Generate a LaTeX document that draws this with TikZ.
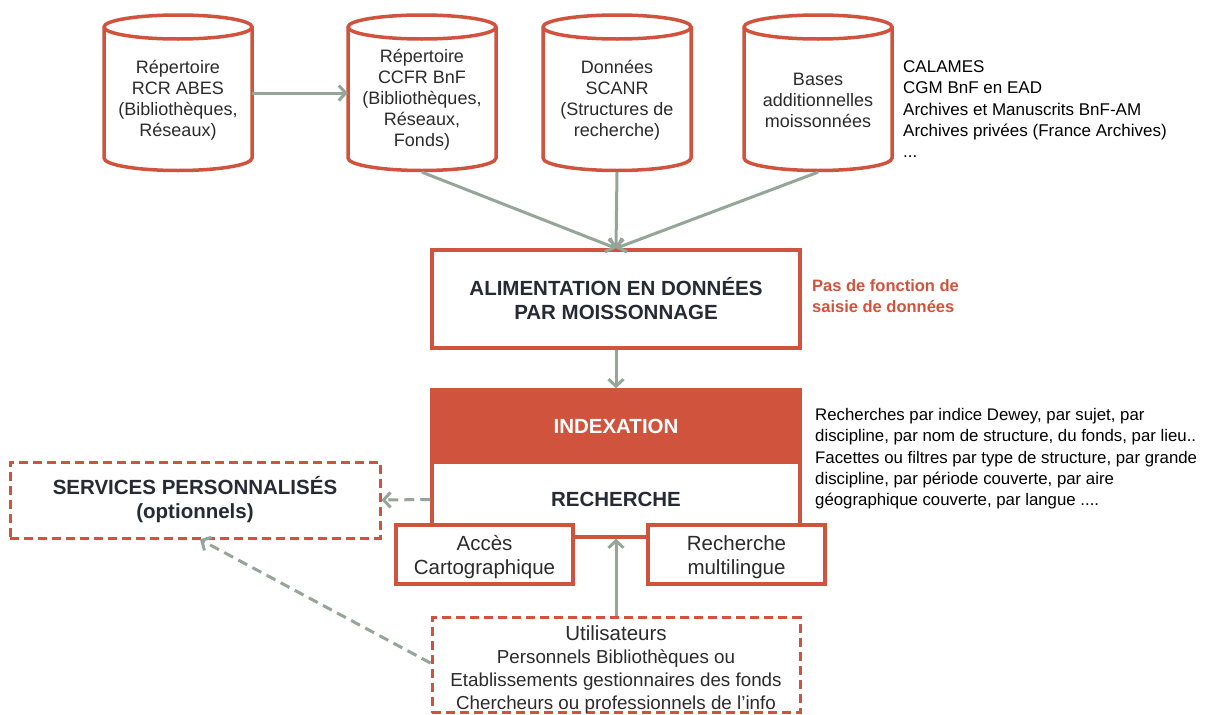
\documentclass[tikz,border=0pt]{standalone}
\usepackage{fontspec}
\setmainfont{Liberation Sans}
\usetikzlibrary{arrows.meta}
\definecolor{rd}{HTML}{D0533D}
\definecolor{gr}{HTML}{95A598}
\definecolor{tx}{HTML}{2B2B2B}
\definecolor{ttl}{HTML}{262A35}
\begin{document}
\begin{tikzpicture}[x=1pt,y=-1pt,
  redline/.style={draw=rd,line width=3.5pt},
  cylnode/.style={minimum width=148pt,minimum height=144pt,inner sep=0pt,align=center,text=tx,
     font=\fontsize{18}{21}\selectfont},
  boxnode/.style={redline,fill=white,inner sep=0pt,align=center},
  dashbox/.style={draw=rd,line width=3pt,dash pattern=on 9pt off 5pt,fill=white,inner sep=0pt,align=center},
  title/.style={text=ttl,font=\fontsize{20.5}{24}\selectfont\bfseries},
  arr/.style={draw=gr,line width=3pt,-{Straight Barb[length=7pt,width=15pt,line width=3pt]}},
  darr/.style={arr,dash pattern=on 10pt off 6pt},
  note/.style={anchor=north west,inner sep=0pt,align=left,text=black,font=\fontsize{17}{21.3}\selectfont}
]
\useasboundingbox (0,0) rectangle (1216,715);
\fill[white] (0,0) rectangle (1216,715);

% cylinders
\foreach \cx in {178,422,617,818}{
  \filldraw[fill=white,redline] (\cx-74,27) -- (\cx-74,158)
     arc[start angle=180,end angle=0,x radius=74,y radius=12.5] -- (\cx+74,27)
     arc[start angle=0,end angle=-180,x radius=74,y radius=12] -- cycle;
  \draw[redline] (\cx-74,27) arc[start angle=180,end angle=0,x radius=74,y radius=12];
}
\node[cylnode] (rcr) at (178,100) {Répertoire\\RCR ABES\\(Bibliothèques,\\Réseaux)};
\node[cylnode] (ccfr) at (422,100) {Répertoire\\CCFR BnF\\(Bibliothèques,\\Réseaux,\\Fonds)};
\node[cylnode] (scanr) at (617,100) {Données\\SCANR\\(Structures de\\recherche)};
\node[cylnode] (bases) at (818,100) {Bases\\additionnelles\\moissonnées};

\node[note] (list) at (903,60.5) {CALAMES\\CGM BnF en EAD\\Archives et Manuscrits BnF-AM\\Archives privées (France Archives)\\...};

% main boxes
\node[boxnode,minimum width=368pt,minimum height=98pt,title] (alim) at (616,299)
   {ALIMENTATION EN DONNÉES\\PAR MOISSONNAGE};
\node[anchor=north west,inner sep=0pt,align=left,text=rd,font=\fontsize{16.5}{21}\selectfont\bfseries]
   (pas) at (812,279) {Pas de fonction de\\saisie de données};

\node[boxnode,minimum width=368pt,minimum height=75pt,title] (rech) at (616,499.5) {RECHERCHE};
\node[fill=rd,draw=rd,line width=3.5pt,minimum width=368pt,minimum height=72pt,inner sep=0pt,
   text=white,font=\fontsize{20.5}{24}\selectfont\bfseries] (idx) at (616,426) {INDEXATION};

\node[note,font=\fontsize{16.8}{21.4}\selectfont] (rtext) at (815,408)
  {Recherches par indice Dewey, par sujet, par\\discipline, par nom de structure, du fonds, par lieu..\\Facettes ou filtres par type de structure, par grande\\discipline, par période couverte, par aire\\géographique couverte, par langue ....};

\node[boxnode,minimum width=177pt,minimum height=59pt] (acces) at (484.5,554.5) {};
\node[text=tx,align=center,inner sep=0pt,font=\fontsize{20.5}{24.5}\selectfont]
   (accestext) at (484.5,557) {Accès\\Cartographique};
\node[boxnode,minimum width=177pt,minimum height=59pt] (multi) at (736.5,554.5) {};
\node[text=tx,align=center,inner sep=0pt,font=\fontsize{20.5}{24.5}\selectfont]
   (multitext) at (736.5,557) {Recherche\\multilingue};

\node[dashbox,minimum width=370pt,minimum height=76pt,title] (serv) at (195,500)
   {SERVICES PERSONNALISÉS\\(optionnels)};

\node[dashbox,minimum width=368pt,minimum height=95pt] (util) at (616,665) {};
\node[text=tx,align=center,inner sep=0pt,font=\fontsize{18.8}{23}\selectfont] (utiltext) at (616,670)
   {{\fontsize{20.5}{23}\selectfont Utilisateurs}\\Personnels Bibliothèques ou\\Etablissements gestionnaires des fonds\\Chercheurs ou professionnels de l’info};

% connectors
\draw[arr] ([yshift=7pt]rcr.east) -- ([yshift=7pt]ccfr.west);
\draw[arr] (ccfr.south) -- (alim.north);
\draw[arr] (scanr.south) -- (alim.north);
\draw[arr] (bases.south) -- (alim.north);
\draw[arr] (alim.south) -- (idx.north);
\draw[arr] (util.north) -- (rech.south);
\draw[darr] (rech.west) -- (serv.east);
\draw[darr] ([yshift=2pt]util.west) -- ([xshift=5pt]serv.south);
\end{tikzpicture}
\end{document}
